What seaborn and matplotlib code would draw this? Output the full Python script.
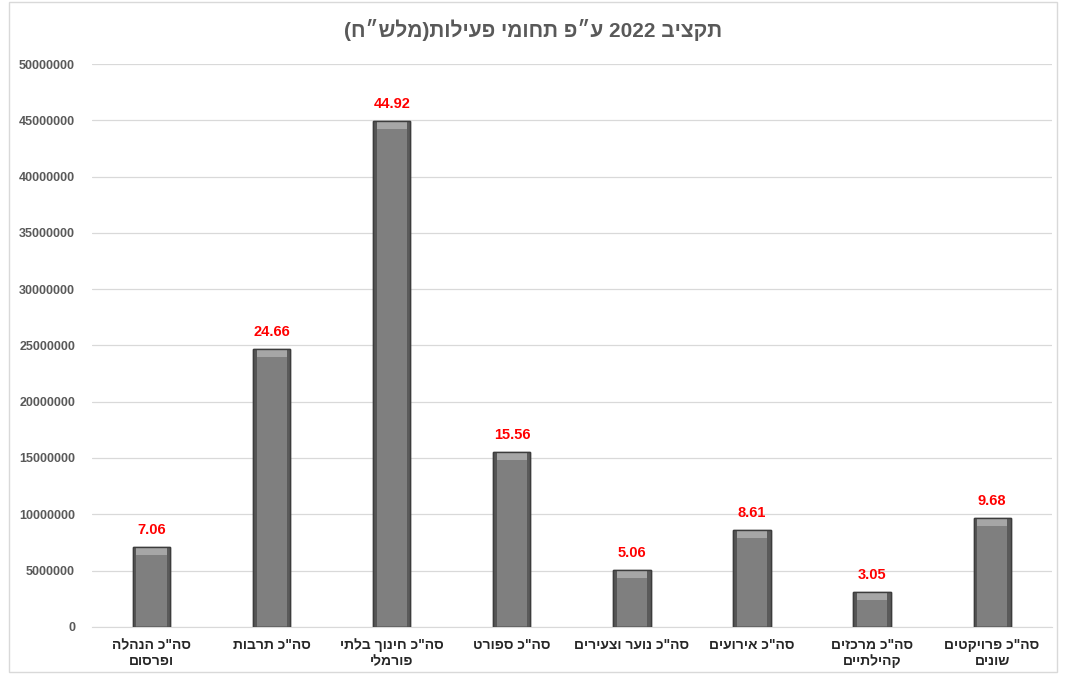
import re
import pandas as pd
import seaborn as sns
import matplotlib.pyplot as plt
from matplotlib.patches import Rectangle

# data (millions of NIS)
categories = ['סה"כ הנהלה\nופרסום', 'סה"כ תרבות', 'סה"כ חינוך בלתי\nפורמלי', 'סה"כ ספורט',
              'סה"כ נוער וצעירים', 'סה"כ אירועים', 'סה"כ מרכזים\nקהילתיים', 'סה"כ פרויקטים\nשונים']
budget_mln = [7.06, 24.66, 44.92, 15.56, 5.06, 8.61, 3.05, 9.68]
y_ticks = [0, 5000000, 10000000, 15000000, 20000000, 25000000, 30000000, 35000000, 40000000, 45000000, 50000000]
title = 'תקציב 2022 ע״פ תחומי פעילות(מלש״ח)'


#matplotlib has no bidi, so flip hebrew to visual order
def vis(s):
    lines = []
    for line in s.split('\n'):
        r = line[::-1]
        r = re.sub(r'[0-9.]+', lambda m: m.group(0)[::-1], r)
        r = r.translate(str.maketrans('()', ')('))
        lines.append(r)
    return '\n'.join(lines)


df = pd.DataFrame({'cat': [vis(c) for c in categories],
                   'budget': [v * 1000000 for v in budget_mln]})

sns.set_style('white')
plt.rcParams['font.family'] = ['Liberation Sans', 'DejaVu Sans']

fig = plt.figure(figsize=(10.66, 6.74), dpi=100)
ax = fig.add_axes([0.086, 0.07, 0.901, 0.835])

sns.barplot(data=df, x='cat', y='budget', color='#7f7f7f', width=0.31,
            edgecolor='#3c3c3c', linewidth=1.0, saturation=1, ax=ax, zorder=3)

# fake bevel: light top strip, darker sides
for p in ax.patches[:len(df)]:
    x0, w, h = p.get_x(), p.get_width(), p.get_height()
    ax.add_patch(Rectangle((x0, h - 700000), w, 700000, facecolor='#a6a6a6', edgecolor='none', zorder=4))
    ax.add_patch(Rectangle((x0, 0), w * 0.09, h, facecolor='#555555', edgecolor='none', zorder=4))
    ax.add_patch(Rectangle((x0 + w * 0.91, 0), w * 0.09, h, facecolor='#5a5a5a', edgecolor='none', zorder=4))
    ax.add_patch(Rectangle((x0, 0), w, h, facecolor='none', edgecolor='#3c3c3c', linewidth=1.0, zorder=5))

for i, v in enumerate(budget_mln):
    ax.text(i, v * 1000000 + 900000, f'{v:.2f}', ha='center', va='bottom',
            color='#ff0000', fontsize=10.5, fontweight='bold')

ax.set_ylim(0, 50000000)
ax.set_xlim(-0.5, len(df) - 0.5)
ax.set_yticks(y_ticks)
ax.set_yticklabels([str(t) for t in y_ticks], fontsize=9, fontweight='bold', color='#595959')
ax.tick_params(axis='x', labelsize=10, labelcolor='#262626', length=0, pad=8)
ax.tick_params(axis='y', length=0, pad=12)
for lbl in ax.get_xticklabels():
    lbl.set_fontweight('bold')
ax.set_xlabel('')
ax.set_ylabel('')
ax.grid(axis='y', color='#d9d9d9', linewidth=0.9, zorder=0)
for s in ['top', 'right', 'left']:
    ax.spines[s].set_visible(False)
ax.spines['bottom'].set_color('#d9d9d9')

fig.text(0.5, 0.955, vis(title), ha='center', va='center', fontsize=15,
         fontweight='bold', color='#595959')

# outer chart border
fig.add_artist(Rectangle((0.008, 0.003), 0.984, 0.994, transform=fig.transFigure,
                         facecolor='none', edgecolor='#d9d9d9', linewidth=1.0))

fig.savefig('out.png', dpi=100)
